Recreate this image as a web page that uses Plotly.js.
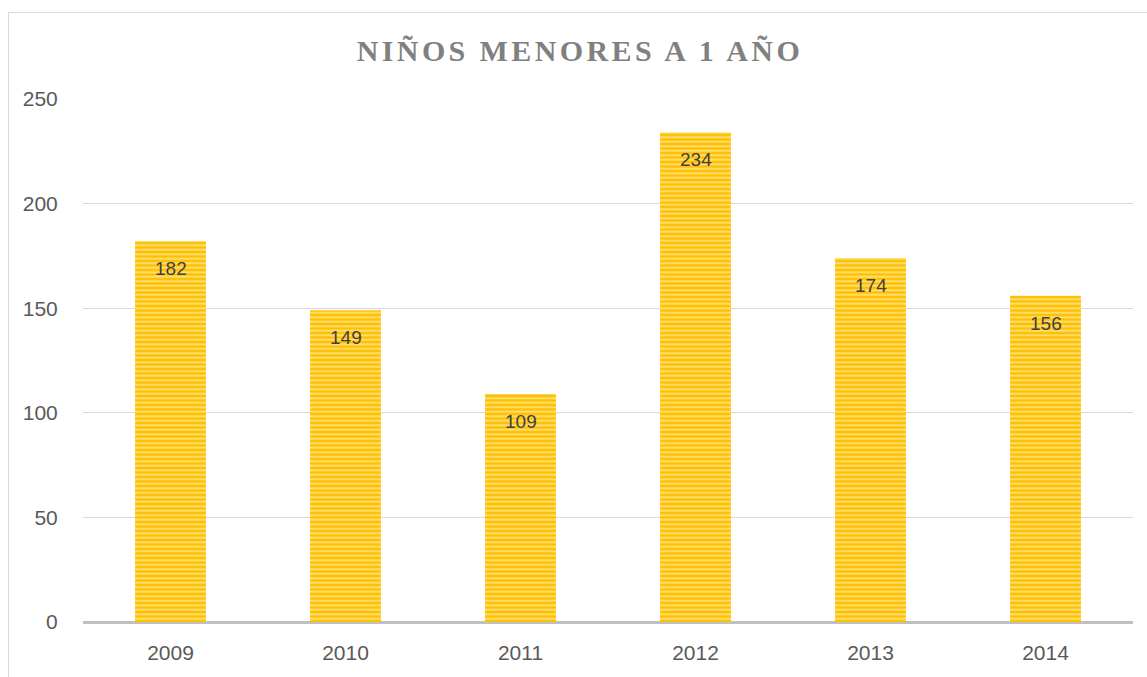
<!DOCTYPE html>
<html>
<head>
<meta charset="utf-8">
<script src="https://cdn.plot.ly/plotly-3.0.1.min.js"></script>
<style>
html,body{margin:0;padding:0;background:#fff;}
#wrap{position:relative;width:1147px;height:677px;}
#chart{width:1147px;height:677px;}
#frame{position:absolute;left:8px;top:12px;width:1139px;height:665px;border-top:1px solid #d9d9d9;border-left:1px solid #d9d9d9;pointer-events:none;box-sizing:border-box;}
.gtitle{letter-spacing:3.4px;}
</style>
</head>
<body>
<div id="wrap"><div id="chart"></div><div id="frame"></div></div>
<script>
const years = ["2009","2010","2011","2012","2013","2014"];
const counts = [182,149,109,234,174,156];
const yTicks = [0,50,100,150,200,250];

const trace = {
  type: "bar",
  x: years,
  y: counts,
  marker: {
    color: "#FFC000",
    line: {width: 0},
    pattern: {shape: "-", fgcolor: "#FFE27E", bgcolor: "#FFC000", size: 4.5, solidity: 0.4}
  },
  hoverinfo: "x+y"
};

const annotations = years.map((yr, i) => ({
  x: i, y: counts[i], xref: "x", yref: "y",
  text: String(counts[i]), showarrow: false,
  yanchor: "top", yshift: -15,
  font: {family: "Liberation Sans, Arial, sans-serif", size: 19, color: "#404040"}
}));

const layout = {
  width: 1147, height: 677,
  margin: {l: 83, r: 14, t: 99, b: 55},
  paper_bgcolor: "#fff", plot_bgcolor: "#fff",
  title: {
    text: "<b>NIÑOS MENORES A 1 AÑO</b>",
    x: 0.5056, xanchor: "center", y: 0.926, yanchor: "middle",
    font: {family: "Liberation Serif, Times New Roman, serif", size: 30, color: "#808080"}
  },
  bargap: 0.595,
  xaxis: {
    type: "category",
    range: [-0.5, 5.5],
    tickfont: {family: "Liberation Sans, Arial, sans-serif", size: 21, color: "#595959"},
    showline: false, ticks: "outside", ticklen: 12, tickcolor: "rgba(0,0,0,0)",
    showgrid: false, zeroline: false
  },
  yaxis: {
    range: [0, 250],
    tickvals: yTicks,
    tickfont: {family: "Liberation Sans, Arial, sans-serif", size: 21, color: "#595959"},
    gridcolor: "#d9d9d9", gridwidth: 1,
    zeroline: true, zerolinecolor: "#bfbfbf", zerolinewidth: 3,
    showline: false, ticks: "outside", ticklen: 20, tickcolor: "rgba(0,0,0,0)"
  },
  annotations: annotations,
  showlegend: false
};

Plotly.newPlot("chart", [trace], layout, {displayModeBar: false, staticPlot: true});
</script>
</body>
</html>
